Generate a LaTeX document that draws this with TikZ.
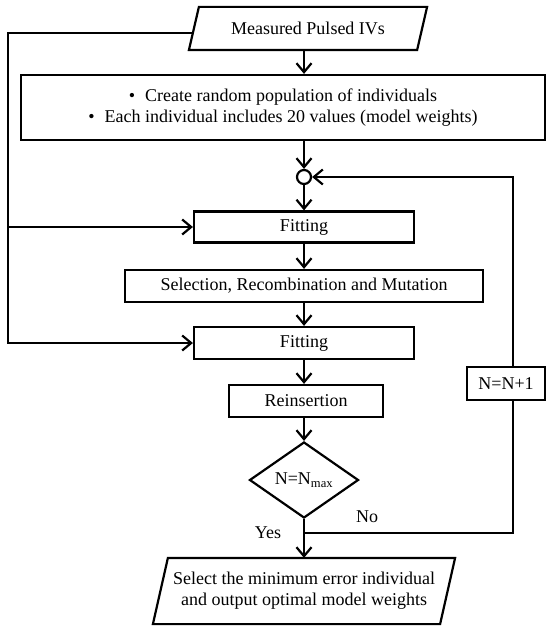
\documentclass[tikz,border=0pt]{standalone}
\usepackage{fontspec}
\setmainfont{Liberation Serif}
\usetikzlibrary{shapes.geometric,arrows.meta,positioning}

\begin{document}
\begin{tikzpicture}[x=1pt,y=-1pt,line width=2.2pt,
  every node/.style={font=\fontsize{18}{21}\selectfont},
  procbox/.style={draw,rectangle,inner sep=0pt,align=center},
  iobox/.style={rectangle,inner sep=0pt,align=center},
  arr/.style={-{Straight Barb[length=9pt,width=15pt,line width=2.2pt]}}]
  \useasboundingbox (0,0) rectangle (546,626);
  % input data
  \node[iobox,minimum width=226pt,minimum height=41pt] (ivs) at (308,28.5) {Measured Pulsed IVs};
  \draw ([xshift=-5pt]ivs.south west) -- ([xshift=5pt]ivs.north west)
    -- ([xshift=5pt]ivs.north east) -- ([xshift=-5pt]ivs.south east) -- cycle;
  % initial population
  \node[procbox,minimum width=524pt,minimum height=65pt] (pop) at (283,107.5)
    {\textbullet\hspace{10pt}Create random population of individuals\\
     \textbullet\hspace{10pt}Each individual includes 20 values (model weights)};
  \node[circle,draw,minimum size=14pt,inner sep=0pt] (join) at (304,177) {};
  % one generation
  \node[procbox,minimum width=220pt,minimum height=31pt] (fit1) at (304,227) {Fitting};
  \node[procbox,minimum width=358pt,minimum height=32pt] (sel) at (304,286) {Selection, Recombination and Mutation};
  \node[procbox,minimum width=220pt,minimum height=32pt] (fit2) at (304,343) {Fitting};
  \node[procbox,minimum width=154pt,minimum height=32pt] (reins) at (306,401) {Reinsertion};
  \node[diamond,draw,aspect=1.43,inner sep=0pt,minimum width=109pt,minimum height=76pt] (check) at (304,480) {N=N\textsubscript{max}};
  \node[procbox,minimum width=78pt,minimum height=33pt] (incr) at (506,383.5) {N=N+1};
  % result
  \node[iobox,minimum width=285pt,minimum height=64pt] (out) at (304,591)
    {Select the minimum error individual\\and output optimal model weights};
  \draw ([xshift=-7.5pt]out.south west) -- ([xshift=7.5pt]out.north west)
    -- ([xshift=7.5pt]out.north east) -- ([xshift=-7.5pt]out.south east) -- cycle;
  \node (yes) at (268,533) {Yes};
  \node (no) at (367,517) {No};

  \coordinate (lx) at (8,0);
  \coordinate (rx) at (513,0);
  \coordinate (tap) at ([yshift=-4.5pt,xshift=-1pt]ivs.west);
  \coordinate[below=14pt of check.south] (split);

  % main flow
  \draw[arr] (ivs.south -| join) -- (pop.north -| join);
  \draw[arr] (pop.south -| join) -- (join);
  \draw[arr] (join) -- (fit1);
  \draw[arr] (fit1) -- (sel);
  \draw[arr] (sel) -- (fit2);
  \draw[arr] (fit2) -- (reins.north -| join);
  \draw[arr] (reins.south -| join) -- (check);
  \draw (check.south) -- (split);
  \draw[arr] (split) -- (out);
  % loop back
  \draw (split) -| (incr.south -| rx);
  \draw[arr] (incr.north -| rx) |- (join);
  % measured data to fitting
  \draw[arr] (tap) -- (tap -| lx) -- (lx |- fit2.west) -- (fit2.west);
  \draw[arr] (lx |- fit1.west) -- (fit1.west);
\end{tikzpicture}
\end{document}
